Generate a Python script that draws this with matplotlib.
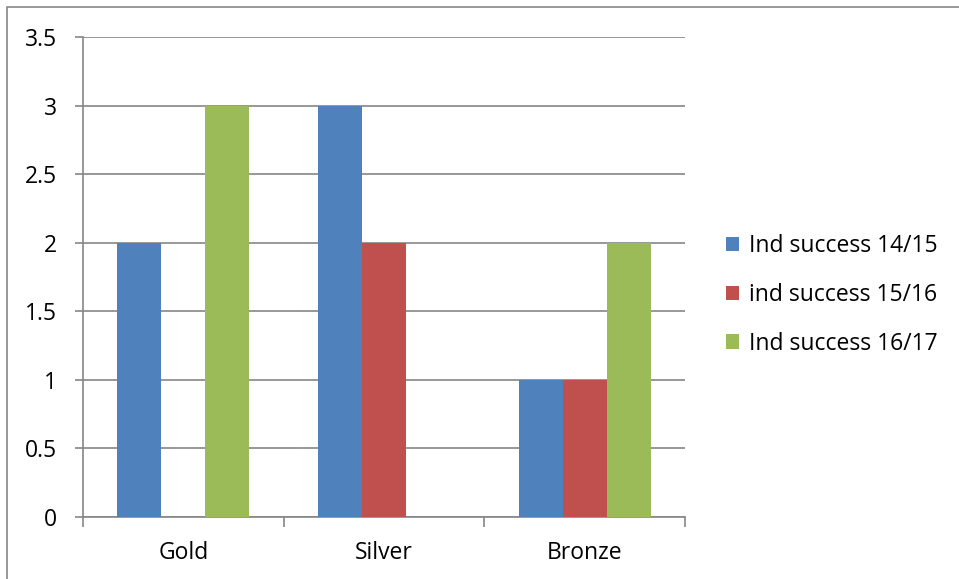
import numpy as np
import matplotlib.pyplot as plt
from matplotlib.patches import Rectangle

categories = ["Gold", "Silver", "Bronze"]
series_names = ["Ind success 14/15", "ind success 15/16", "Ind success 16/17"]
success_1415 = [2, 3, 1]
success_1516 = [0, 2, 1]
success_1617 = [3, 0, 2]
colors = ["#4F81BD", "#C0504D", "#9BBB59"]
y_ticks = [0, 0.5, 1, 1.5, 2, 2.5, 3, 3.5]
y_labels = ["0", "0.5", "1", "1.5", "2", "2.5", "3", "3.5"]

plt.rcParams['font.family'] = ['Open Sans', 'DejaVu Sans']
grey = "#868686"
fs = 16.5

fig = plt.figure(figsize=(9.59, 5.79), dpi=100)
# outer chart border
fig.patches.append(Rectangle((7 / 959, -0.1), 1.2, (1 - 7 / 579) + 0.1,
                             transform=fig.transFigure, fill=False,
                             edgecolor=grey, linewidth=1.2))

ax = fig.add_axes([83 / 959, 1 - 517 / 579, 602 / 959, 480 / 579])

x = np.arange(len(categories))
width = 0.219
for j, vals in enumerate([success_1415, success_1516, success_1617]):
    ax.bar(x + (j - 1) * width, vals, width, color=colors[j],
           label=series_names[j], zorder=3)

ax.set_xlim(-0.5, len(categories) - 0.5)
ax.set_ylim(0, 3.5)
ax.set_yticks(y_ticks)
ax.set_yticklabels(y_labels)
ax.yaxis.grid(True, color=grey, linewidth=1.2, zorder=0)

ax.set_xticks(np.arange(len(categories) + 1) - 0.5)
ax.set_xticklabels([])
ax.set_xticks(x, minor=True)
ax.set_xticklabels(categories, minor=True)
ax.tick_params(axis='x', which='minor', length=0, pad=17, labelsize=fs)
ax.tick_params(axis='x', which='major', length=7, width=1.2, color=grey)
ax.tick_params(axis='y', length=6, width=1.2, color=grey, pad=13, labelsize=fs)

for side in ["top", "right"]:
    ax.spines[side].set_visible(False)
for side in ["left", "bottom"]:
    ax.spines[side].set_color(grey)
    ax.spines[side].set_linewidth(1.2)

fig.legend(loc="center left", bbox_to_anchor=(705 / 959, 1 - 295 / 579),
           frameon=False, fontsize=fs, handlelength=0.6, handleheight=0.6,
           handletextpad=0.4, labelspacing=1.08)

fig.savefig("out.png", dpi=100)
